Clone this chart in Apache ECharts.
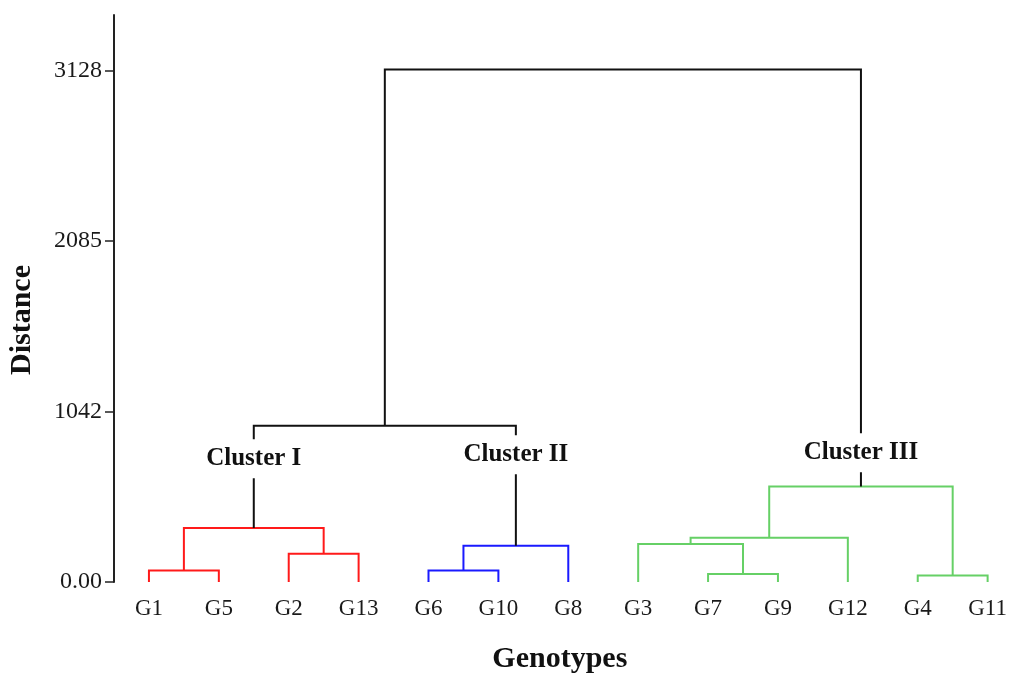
<!DOCTYPE html>
<html>
<head>
<meta charset="utf-8">
<script src="https://cdn.jsdelivr.net/npm/echarts@6/dist/echarts.min.js"></script>
<style>html,body{margin:0;padding:0;background:#fff}#c{width:1010px;height:679px}</style>
</head>
<body>
<div id="c"></div>
<script>
// Leaf order along the x axis
const genotypes = ['G1','G5','G2','G13','G6','G10','G8','G3','G7','G9','G12','G4','G11'];
// Merges m1..m12 (in order): left child, right child, merge distance
const mergeLeft   = ['G1','G2','m1','G6','m4','G7','G3','m7','G4','m8','m3','m11'];
const mergeRight  = ['G5','G13','m2','G10','G8','G9','m6','G12','G11','m9','m5','m10'];
const mergeHeight = [71, 173, 330, 71, 222, 49, 232, 271, 40, 585, 956, 3135];
const mergeGroup  = ['I','I','I','II','II','III','III','III','III','III','root','root'];
// Y axis tick values and labels
const yTickValues = [0, 1042.667, 2085.333, 3128];
const yTickLabels = ['0.00', '1042', '2085', '3128'];
// Cluster annotations
const clusterNames = ['Cluster I', 'Cluster II', 'Cluster III'];
const clusterNodes = ['m3', 'm5', 'm10'];
const clusterLabelY = [754, 778, 791];

const groupColor = { 'I': '#ff1a1a', 'II': '#1a1aff', 'III': '#66d066', 'root': '#111111' };
const serif = "'Liberation Serif', 'Times New Roman', serif";

// node positions
const pos = {};
genotypes.forEach((g, i) => { pos[g] = { x: i, h: 0 }; });
const lineData = [];
mergeLeft.forEach((l, i) => {
  const r = mergeRight[i];
  const H = mergeHeight[i];
  const a = pos[l], b = pos[r];
  pos['m' + (i + 1)] = { x: (a.x + b.x) / 2, h: H };
  lineData.push({
    coords: [[a.x, a.h], [a.x, H], [b.x, H], [b.x, b.h]],
    lineStyle: { color: groupColor[mergeGroup[i]] }
  });
});
const labelData = clusterNames.map((n, i) => ({
  value: [pos[clusterNodes[i]].x, clusterLabelY[i]],
  name: n
}));

const chart = echarts.init(document.getElementById('c'));
chart.setOption({
  animation: false,
  backgroundColor: '#fff',
  grid: { left: 114, right: 17.3, top: 15, bottom: 96.7 },
  xAxis: {
    type: 'value', min: -0.5, max: 12,
    name: 'Genotypes', nameLocation: 'middle', nameGap: 62,
    nameTextStyle: { fontFamily: serif, fontWeight: 'bold', fontSize: 30, color: '#111', padding: [0, 0, 0, 18] },
    axisLine: { show: false }, axisTick: { show: false }, splitLine: { show: false },
    axisLabel: {
      customValues: genotypes.map((g, i) => i),
      formatter: v => genotypes[Math.round(v)],
      fontFamily: serif, fontSize: 23, color: '#1a1a1a', margin: 15
    }
  },
  yAxis: {
    type: 'value', min: 0, max: 3469,
    axisLine: { show: true, onZero: false, lineStyle: { color: '#222', width: 2 } },
    axisTick: { show: true, customValues: yTickValues, length: 9, lineStyle: { color: '#222', width: 1.5 } },
    splitLine: { show: false },
    axisLabel: {
      customValues: yTickValues,
      formatter: v => { const k = yTickValues.findIndex(t => Math.abs(t - v) < 1); return k >= 0 ? yTickLabels[k] : ''; },
      fontFamily: serif, fontSize: 24, color: '#1a1a1a', margin: 12
    }
  },
  graphic: [{
    type: 'text', x: 22, y: 320, rotation: Math.PI / 2,
    style: { text: 'Distance', font: 'bold 30px ' + serif, fill: '#111', textAlign: 'center', textVerticalAlign: 'middle' }
  }],
  series: [{
    type: 'lines', coordinateSystem: 'cartesian2d', polyline: true,
    lineStyle: { width: 2, opacity: 1 },
    data: lineData, z: 2
  }, {
    type: 'scatter', symbolSize: 0, z: 5,
    itemStyle: { opacity: 1 },
    data: labelData,
    label: {
      show: true, position: 'inside', formatter: p => p.name, opacity: 1,
      fontFamily: serif, fontWeight: 'bold', fontSize: 25, color: '#111',
      backgroundColor: '#ffffff', padding: [7, 4]
    }
  }]
});
</script>
</body>
</html>
